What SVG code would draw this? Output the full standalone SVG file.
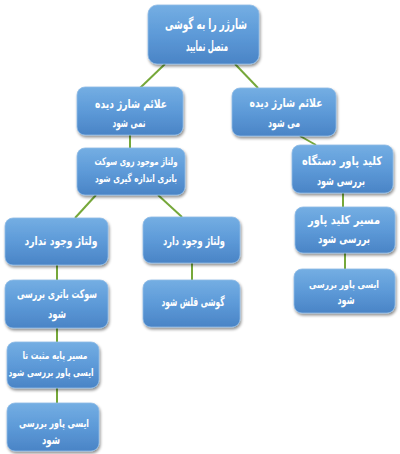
<svg xmlns="http://www.w3.org/2000/svg" width="400" height="454" viewBox="0 0 400 454">
<defs>
<linearGradient id="g" x1="0" y1="0" x2="0" y2="1">
<stop offset="0" stop-color="#74aee3"/>
<stop offset="0.5" stop-color="#5d9ad8"/>
<stop offset="1" stop-color="#4a84c6"/>
</linearGradient>
<filter id="sh" x="-10%" y="-10%" width="130%" height="140%">
<feGaussianBlur in="SourceAlpha" stdDeviation="1.5"/>
<feOffset dx="1" dy="2" result="b"/>
<feComponentTransfer><feFuncA type="linear" slope="0.45"/></feComponentTransfer>
<feMerge><feMergeNode/><feMergeNode in="SourceGraphic"/></feMerge>
</filter>
</defs>
<style>
.box{fill:url(#g);stroke:#8fbbe6;stroke-width:0.8;filter:url(#sh)}
.t{font-family:"DejaVu Sans",sans-serif;font-weight:bold;fill:#ffffff;font-size:12px;text-anchor:middle}
.big{font-size:14px}
.sm{font-size:10.5px}
.md{font-size:11px}
.xs{font-size:10px}
.c{stroke:#76a83a;stroke-width:2;fill:none}
</style>
<rect width="400" height="454" fill="#ffffff"/>
<g id="connectors">
<line class="c" x1="165" y1="64" x2="140" y2="88"/>
<line class="c" x1="235" y1="64" x2="258" y2="88"/>
<line class="c" x1="130" y1="135" x2="130" y2="148"/>
<line class="c" x1="96" y1="195" x2="75" y2="218"/>
<line class="c" x1="158" y1="195" x2="182" y2="217"/>
<line class="c" x1="57" y1="265" x2="57" y2="280"/>
<line class="c" x1="57" y1="328" x2="57" y2="342"/>
<line class="c" x1="57" y1="388" x2="57" y2="403"/>
<line class="c" x1="192" y1="263" x2="192" y2="280"/>
<line class="c" x1="300" y1="136" x2="316" y2="145"/>
<line class="c" x1="343" y1="193" x2="343" y2="207"/>
<line class="c" x1="345" y1="253" x2="345" y2="269"/>
</g>
<g id="n1"><rect class="box" x="148" y="5" width="111" height="59" rx="9"/>
<text class="t big" x="206" y="29" textLength="82" lengthAdjust="spacingAndGlyphs">شارژر را به گوشی</text>
<text class="t big" x="207" y="51" textLength="42" lengthAdjust="spacingAndGlyphs">متصل نمایید</text></g>
<g id="n2"><rect class="box" x="77" y="87" width="106" height="48" rx="8"/>
<text class="t" x="131" y="108" textLength="72" lengthAdjust="spacingAndGlyphs">علائم شارژ دیده</text>
<text class="t" x="129" y="127" textLength="33" lengthAdjust="spacingAndGlyphs">نمی شود</text></g>
<g id="n3"><rect class="box" x="232" y="88" width="104" height="48" rx="8"/>
<text class="t" x="286" y="107" textLength="73" lengthAdjust="spacingAndGlyphs">علائم شارژ دیده</text>
<text class="t" x="284" y="127" textLength="32" lengthAdjust="spacingAndGlyphs">می شود</text></g>
<g id="n4"><rect class="box" x="77" y="148" width="108" height="47" rx="8"/>
<text class="t sm" x="136" y="165" textLength="83" lengthAdjust="spacingAndGlyphs">ولتاژ موجود روی سوکت</text>
<text class="t sm" x="136" y="182" textLength="82" lengthAdjust="spacingAndGlyphs">باتری اندازه گیری شود</text></g>
<g id="n5"><rect class="box" x="292" y="145" width="101" height="48" rx="8"/>
<text class="t" x="342" y="165" textLength="80" lengthAdjust="spacingAndGlyphs">کلید پاور دستگاه</text>
<text class="t" x="341" y="185" textLength="48" lengthAdjust="spacingAndGlyphs">بررسی شود</text></g>
<g id="n6"><rect class="box" x="5" y="218" width="103" height="47" rx="8"/>
<text class="t" x="61" y="245" textLength="73" lengthAdjust="spacingAndGlyphs">ولتاژ وجود ندارد</text></g>
<g id="n7"><rect class="box" x="143" y="217" width="97" height="46" rx="8"/>
<text class="t" x="194" y="245" textLength="62" lengthAdjust="spacingAndGlyphs">ولتاژ وجود دارد</text></g>
<g id="n8"><rect class="box" x="295" y="207" width="100" height="46" rx="8"/>
<text class="t" x="344" y="224" textLength="72" lengthAdjust="spacingAndGlyphs">مسیر کلید پاور</text>
<text class="t" x="344" y="243" textLength="52" lengthAdjust="spacingAndGlyphs">بررسی شود</text></g>
<g id="n9"><rect class="box" x="5" y="280" width="103" height="48" rx="8"/>
<text class="t" x="57" y="298" textLength="80" lengthAdjust="spacingAndGlyphs">سوکت باتری بررسی</text>
<text class="t" x="57" y="318" textLength="18" lengthAdjust="spacingAndGlyphs">شود</text></g>
<g id="n10"><rect class="box" x="143" y="280" width="97" height="47" rx="8"/>
<text class="t" x="193" y="306" textLength="63" lengthAdjust="spacingAndGlyphs">گوشی فلش شود</text></g>
<g id="n11"><rect class="box" x="294" y="269" width="101" height="44" rx="8"/>
<text class="t xs" x="344" y="288" textLength="70" lengthAdjust="spacingAndGlyphs">ایسی پاور بررسی</text>
<text class="t" x="346" y="304" textLength="17" lengthAdjust="spacingAndGlyphs">شود</text></g>
<g id="n12"><rect class="box" x="7" y="342" width="92" height="46" rx="8"/>
<text class="t sm" x="55" y="359" textLength="65" lengthAdjust="spacingAndGlyphs">مسیر پایه مثبت تا</text>
<text class="t sm" x="51" y="376" textLength="85" lengthAdjust="spacingAndGlyphs">ایسی پاور بررسی شود</text></g>
<g id="n13"><rect class="box" x="7" y="403" width="92" height="48" rx="8"/>
<text class="t md" x="54" y="427" textLength="70" lengthAdjust="spacingAndGlyphs">ایسی پاور بررسی</text>
<text class="t" x="51" y="444" textLength="18" lengthAdjust="spacingAndGlyphs">شود</text></g>
</svg>
